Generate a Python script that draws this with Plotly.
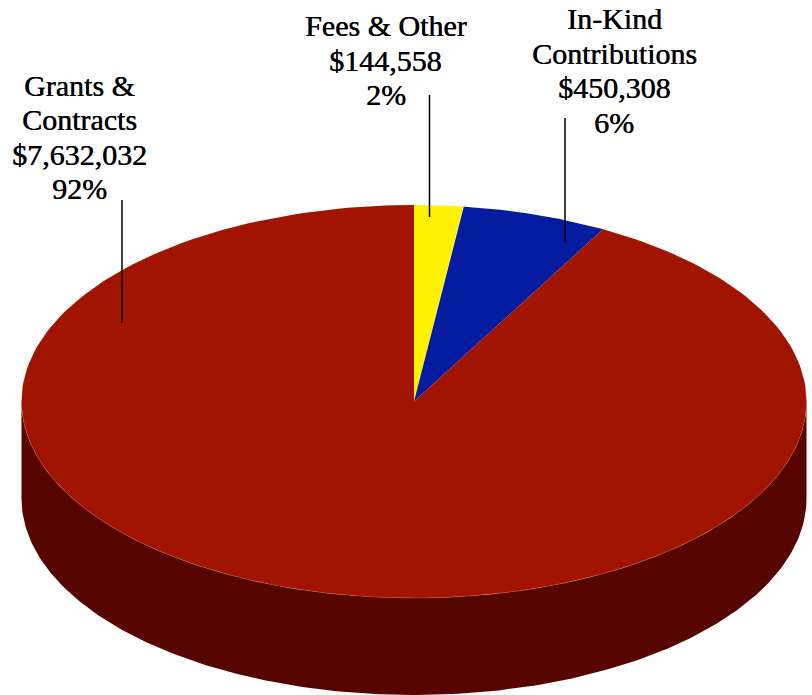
import numpy as np
import plotly.graph_objects as go

# Revenue sources, clockwise from twelve o'clock
sources = ["Fees & Other", "In-Kind<br>Contributions", "Grants &<br>Contracts"]
amounts = ["$144,558", "$450,308", "$7,632,032"]
shares = [2, 6, 92]
colors = ["#FFF200", "#051BA0", "#A11500"]
wall_color = "#570500"

# Page geometry of the tilted disc, in pixels
W, H = 812, 695
CX, CY, RX, RY = 414, 401.5, 392.5, 196.5
DEPTH = 97 / RY  # thickness of the disc in axis units

# Label block centres, line spacing and leader lines, in pixels
label_xy = [(385.5, 60), (614, 70.5), (79, 137)]
LINE_STEP = 34.5
leaders = [(429.5, 95, 217), (565, 118, 243), (122, 200, 323)]


def arc(t0, t1, n=240):
    """Points on the unit circle, angle measured clockwise from the top."""
    t = np.linspace(t0, t1, n)
    return np.sin(t), np.cos(t)


fig = go.Figure()

# Side wall: the front half of the rim plus the same arc shifted down
x_rim, y_rim = arc(np.pi / 2, 3 * np.pi / 2)
fig.add_trace(go.Scatter(
    x=np.concatenate([x_rim, x_rim[::-1]]),
    y=np.concatenate([y_rim, y_rim[::-1] - DEPTH]),
    fill="toself", fillcolor=wall_color, mode="lines", line=dict(width=0),
    hoverinfo="skip", showlegend=False,
))

# Top face: one wedge per source, swept by its percentage share
start = 0.0
for name, share, color in zip(sources, shares, colors):
    sweep = 2 * np.pi * share / sum(shares)
    xs, ys = arc(start, start + sweep)
    fig.add_trace(go.Scatter(
        x=np.concatenate([[0], xs, [0]]),
        y=np.concatenate([[0], ys, [0]]),
        fill="toself", fillcolor=color, mode="lines", line=dict(width=0),
        name=name.replace("<br>", " "), hoverinfo="name", showlegend=False,
    ))
    start += sweep

# Faint highlight where the top face meets the wall
fig.add_trace(go.Scatter(
    x=x_rim, y=y_rim, mode="lines",
    line=dict(color="rgba(205,110,90,0.55)", width=0.7),
    hoverinfo="skip", showlegend=False,
))

for (px, top, bottom) in leaders:
    fig.add_shape(
        type="line", xref="paper", yref="paper",
        x0=px / W, x1=px / W, y0=1 - top / H, y1=1 - bottom / H,
        line=dict(color="#000000", width=1.5),
    )

# Labels are stacked line by line to hold a tighter leading than the default;
# the hairline shadow gives the serif a slightly heavier colour
for name, amount, share, (px, py) in zip(sources, amounts, shares, label_xy):
    rows = name.split("<br>") + [amount, f"{share}%"]
    first = py - LINE_STEP * (len(rows) - 1) / 2
    for i, row in enumerate(rows):
        fig.add_annotation(
            xref="paper", yref="paper", x=px / W, y=1 - (first + i * LINE_STEP) / H,
            xanchor="center", yanchor="middle", align="center", showarrow=False,
            text=row,
            font=dict(family="Liberation Serif", size=30, color="#000000",
                      shadow="0.4px 0 0 #000000"),
        )

fig.update_xaxes(range=[-CX / RX, (W - CX) / RX], visible=False, fixedrange=True)
fig.update_yaxes(range=[(CY - H) / RY, CY / RY], visible=False, fixedrange=True)
fig.update_layout(
    width=W, height=H, margin=dict(l=0, r=0, t=0, b=0),
    paper_bgcolor="#FEFEFE", plot_bgcolor="#FEFEFE",
)

fig.write_html("out.html")
